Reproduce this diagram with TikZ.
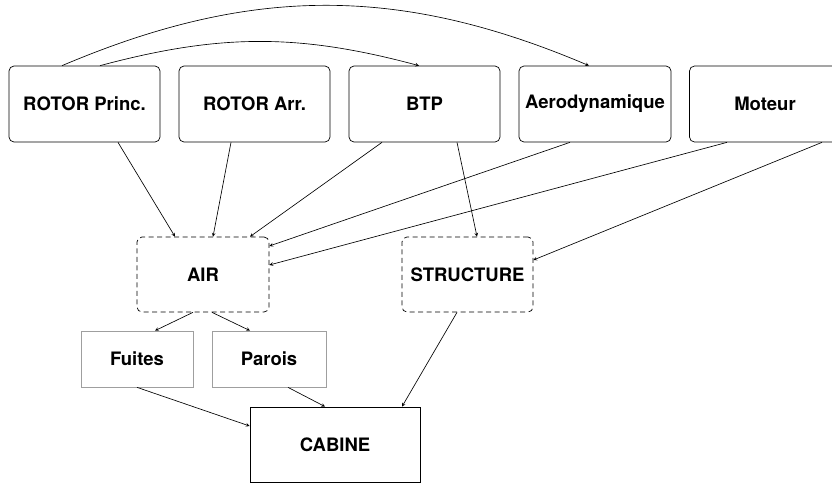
\documentclass[tikz,border=0pt]{standalone}
\usepackage{fontspec}
\setmainfont{TeX Gyre Heros}
\usetikzlibrary{shapes,positioning,arrows}

\begin{document}
\begin{tikzpicture}[x=1pt, y=-1pt,
    every node/.style={font=\fontsize{18.5}{22}\selectfont\bfseries},
    source/.style={draw, rounded corners=5pt, minimum width=151pt, minimum height=76pt, inner sep=0pt, line width=0.7pt},
    group/.style={draw, dash pattern=on 5pt off 3.5pt, rounded corners=5pt, minimum width=132pt, minimum height=75pt, inner sep=0pt, line width=0.7pt},
    part/.style={draw=gray!75, minimum width=113pt, minimum height=56pt, inner sep=0pt, line width=0.7pt},
    target/.style={draw, minimum width=170pt, minimum height=75pt, inner sep=0pt, line width=0.8pt},
    link/.style={->, line width=0.65pt, >=stealth}]
                \useasboundingbox (0,0) rectangle (832,483);
                % --------
                % Sources
                % --------
                \node[source] at (84.5, 104) (rotorp) {ROTOR Princ.};
                \node[source] at (254.5, 104) (rotora) {ROTOR Arr.};
                \node[source] at (424.5, 104) (btp) {BTP};
                \node[source, minimum width=152pt] at (595, 104) (aero) {Aerodynamique};
                \node[source] at (765, 104) (moteur) {Moteur};

                % --------
                % Groups
                % --------
                \node[group] at (203, 274.5) (air) {AIR};
                \node[group, minimum width=131pt] at (467.5, 274.5) (structure) {STRUCTURE};

                \node[part, minimum width=112pt] at (137, 359) (fuites) {Fuites};
                \node[part, minimum width=114pt] at (269, 359) (parois) {Parois};

                \node[target] at (335, 444.5) (cabine) {CABINE};

                % Draw line
                \draw[link] ([xshift=-22.5pt]rotorp.north) to[out=23, in=157] ([xshift=-6pt]aero.north);
                \draw[link] ([xshift=15.5pt]rotorp.north) to[out=15, in=165] ([xshift=-5.5pt]btp.north);

                \draw[link] ([xshift=33.5pt]rotorp.south) -- ([xshift=-28pt]air.north);
                \draw[link] ([xshift=-23.5pt]rotora.south) -- ([xshift=10pt]air.north);
                \draw[link] ([xshift=-42.5pt]btp.south) -- ([xshift=47pt]air.north);
                \draw[link] ([xshift=32.5pt]btp.south) -- ([xshift=9.5pt]structure.north);
                \draw[link] ([xshift=-25pt]aero.south) -- ([yshift=28.5pt]air.east);
                \draw[link] ([xshift=-38pt]moteur.south) -- ([yshift=9.5pt]air.east);
                \draw[link] ([xshift=57pt]moteur.south) -- ([yshift=14.5pt]structure.east);

                \draw[link] ([xshift=-10pt]air.south) -- ([xshift=18pt]fuites.north);
                \draw[link] ([xshift=9pt]air.south) -- ([xshift=-19pt]parois.north);

                \draw[link] (fuites.south) -- ([yshift=18.5pt]cabine.west);
                \draw[link] ([xshift=19pt]parois.south) -- ([xshift=-10pt]cabine.north);
                \draw[link] ([xshift=-10.5pt]structure.south) -- ([xshift=67pt]cabine.north);
\end{tikzpicture}
\end{document}
